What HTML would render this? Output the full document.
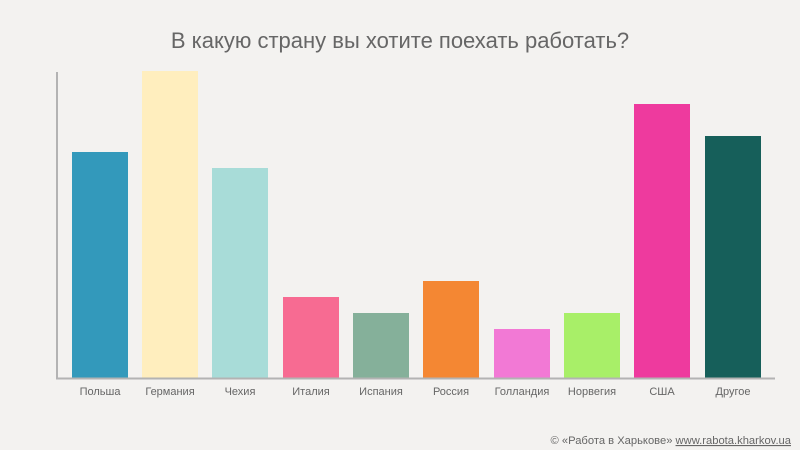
<!DOCTYPE html>
<html><head><meta charset="utf-8"><style>
body{margin:0;width:800px;height:450px;background:#f3f2f0;overflow:hidden}
svg{display:block;font-family:"Liberation Sans",sans-serif}
</style></head><body>
<svg width="800" height="450" xmlns="http://www.w3.org/2000/svg">
<rect width="800" height="450" fill="#f3f2f0"/>
<text x="400" y="48" text-anchor="middle" font-size="22" fill="#666">В какую страну вы хотите поехать работать?</text>
<g>
<rect x="72" y="152" width="56" height="226" fill="#3399bb"/>
<rect x="142" y="71" width="56" height="307" fill="#ffeebe"/>
<rect x="212" y="168" width="56" height="210" fill="#a8dcd8"/>
<rect x="283" y="297" width="56" height="81" fill="#f76b92"/>
<rect x="353" y="313" width="56" height="65" fill="#85b09a"/>
<rect x="423" y="281" width="56" height="97" fill="#f48733"/>
<rect x="494" y="329" width="56" height="49" fill="#f279d5"/>
<rect x="564" y="313" width="56" height="65" fill="#a8ef68"/>
<rect x="634" y="104" width="56" height="274" fill="#ee3a9e"/>
<rect x="705" y="136" width="56" height="242" fill="#165f5a"/>
</g>
<line x1="57" y1="72" x2="57" y2="379" stroke="#b3b3b3" stroke-width="2"/>
<line x1="56" y1="378.5" x2="775" y2="378.5" stroke="#b3b3b3" stroke-width="2"/>
<g font-size="11" fill="#666" text-anchor="middle">
<text x="100" y="395">Польша</text>
<text x="170" y="395">Германия</text>
<text x="240" y="395">Чехия</text>
<text x="311" y="395">Италия</text>
<text x="381" y="395">Испания</text>
<text x="451" y="395">Россия</text>
<text x="522" y="395">Голландия</text>
<text x="592" y="395">Норвегия</text>
<text x="662" y="395">США</text>
<text x="733" y="395">Другое</text>
</g>
<text x="791" y="444" text-anchor="end" font-size="11.2" fill="#666">© «Работа в Харькове» <tspan text-decoration="underline">www.rabota.kharkov.ua</tspan></text>
</svg>
</body></html>
